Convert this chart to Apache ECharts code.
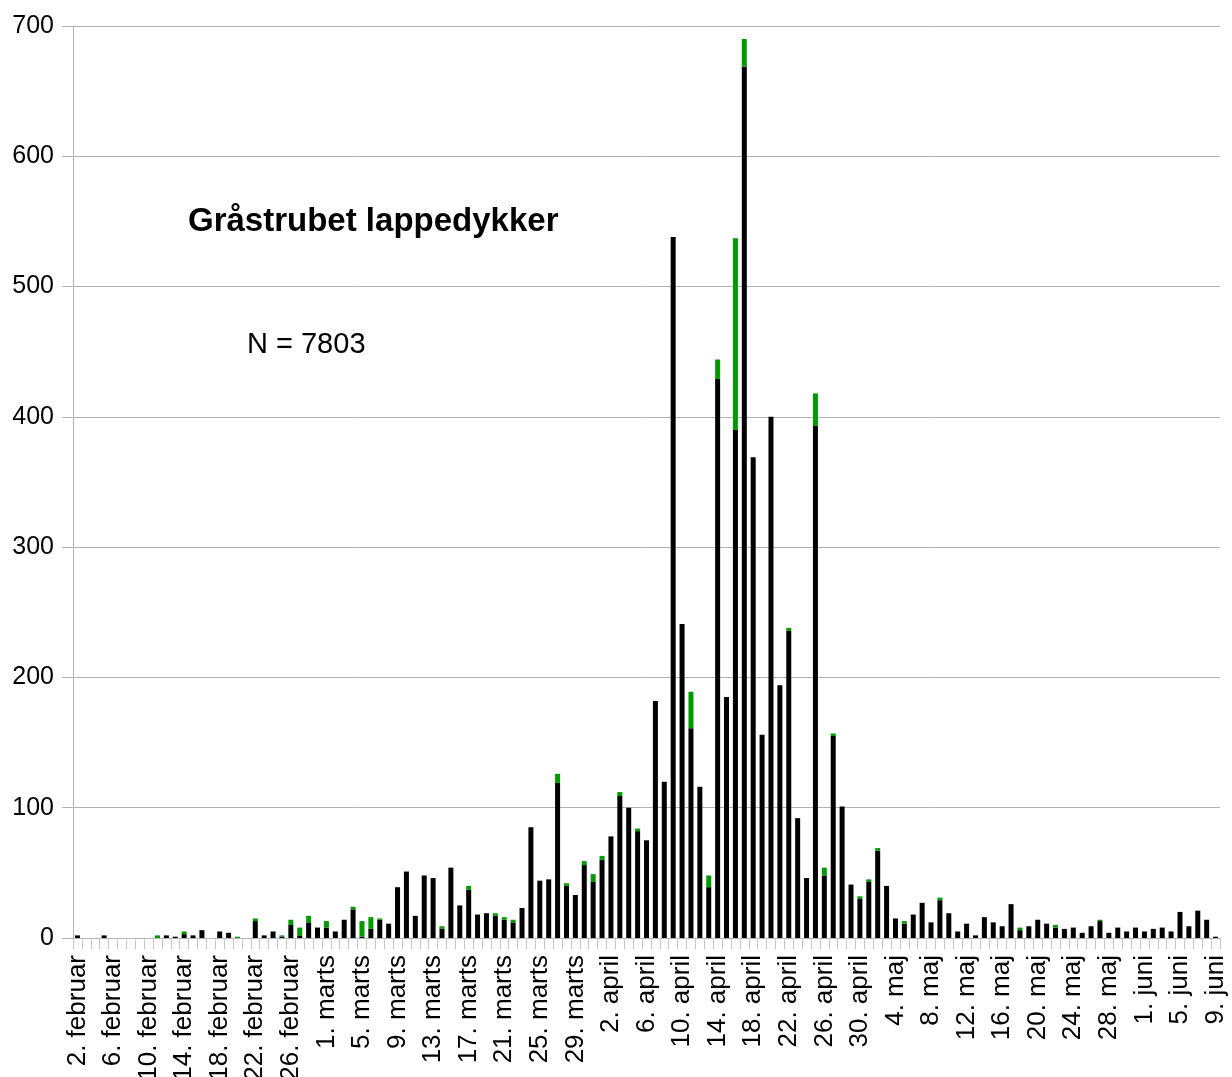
<!DOCTYPE html>
<html>
<head>
<meta charset="utf-8">
<title>Gråstrubet lappedykker</title>
<script src="https://cdn.jsdelivr.net/npm/echarts@6/dist/echarts.min.js"></script>
<style>
  html, body { margin: 0; padding: 0; background: #fff; }
  #chart { width: 1232px; height: 1077px; }
</style>
</head>
<body>
<div id="chart"></div>
<script>
// måneder i perioden 2. februar - 9. juni (skudår)
const months = [
  ['februar', 2, 29],
  ['marts', 1, 31],
  ['april', 1, 30],
  ['maj', 1, 31],
  ['juni', 1, 9]
]

// sorte søjler (hovedserie)
const black = [
  2, 0, 0, 2, 0, 0, 0, 0, 0, 0,
  2, 1, 3, 2, 6, 0, 5, 4, 0, 0,
  13, 2, 5, 1, 10, 2, 12, 8, 8, 5,
  14, 22, 1, 7, 14, 11, 39, 51, 17, 48,
  46, 7, 54, 25, 37, 18, 19, 17, 14, 12,
  23, 85, 44, 45, 119, 40, 33, 56, 43, 60,
  78, 109, 100, 82, 75, 182, 120, 538, 241, 161,
  116, 39, 429, 185, 390, 669, 369, 156, 400, 194,
  236, 92, 46, 393, 48, 155, 101, 41, 30, 43,
  67, 40, 15, 11, 18, 27, 12, 29, 19, 5,
  11, 2, 16, 12, 9, 26, 6, 9, 14, 11,
  8, 7, 8, 4, 9, 13, 4, 8, 5, 8,
  5, 7, 8, 5, 20, 9, 21, 14, 1
]

// grønne toppe
const green = [
  0, 0, 0, 0, 0, 0, 0, 0, 0, 2,
  0, 0, 2, 0, 0, 0, 0, 0, 1, 0,
  2, 0, 0, 1, 4, 6, 5, 0, 5, 0,
  0, 2, 12, 9, 1, 0, 0, 0, 0, 0,
  0, 2, 0, 0, 3, 0, 0, 2, 2, 2,
  0, 0, 0, 0, 7, 2, 0, 3, 6, 3,
  0, 3, 0, 2, 0, 0, 0, 0, 0, 28,
  0, 9, 15, 0, 147, 21, 0, 0, 0, 0,
  2, 0, 0, 25, 6, 2, 0, 0, 2, 2,
  2, 0, 0, 2, 0, 0, 0, 2, 0, 0,
  0, 0, 0, 0, 0, 0, 2, 0, 0, 0,
  2, 0, 0, 0, 0, 1, 0, 0, 0, 0,
  0, 0, 0, 0, 0, 0, 0, 0, 0
]

const yTicks = [0, 100, 200, 300, 400, 500, 600, 700]

// kategorier: "2. februar", "3. februar", ...
const days = []
months.forEach(([name, from, to]) => {
  for (let d = from; d <= to; d++) days.push(d + '. ' + name)
})

const font = "'Liberation Sans', Arial, sans-serif"
const gridColor = '#b3b3b3'

const chart = echarts.init(document.getElementById('chart'))

chart.setOption({
  backgroundColor: '#ffffff',
  animation: false,
  textStyle: { fontFamily: font },
  title: [
    {
      text: 'Gråstrubet lappedykker',
      left: 188,
      top: 205,
      padding: 0,
      textStyle: { fontSize: 33, fontWeight: 'bold', color: '#000', fontFamily: font }
    },
    {
      text: 'N = 7803',
      left: 247,
      top: 330,
      padding: 0,
      textStyle: { fontSize: 29, fontWeight: 'normal', color: '#000', fontFamily: font }
    }
  ],
  grid: { left: 73, right: 12, top: 26, bottom: 139, containLabel: false, outerBoundsMode: 'none' },
  xAxis: {
    type: 'category',
    data: days,
    boundaryGap: true,
    axisLine: { lineStyle: { color: gridColor, width: 1 } },
    axisTick: { show: true, interval: 0, length: 11, lineStyle: { color: '#c8c8c8' } },
    axisLabel: {
      interval: 3,
      rotate: 90,
      margin: 17,
      fontSize: 26,
      color: '#000',
      fontFamily: font,
      hideOverlap: false
    },
    splitLine: { show: false }
  },
  yAxis: {
    type: 'value',
    min: yTicks[0],
    max: yTicks[yTicks.length - 1],
    interval: 100,
    axisLine: { show: true, lineStyle: { color: gridColor } },
    axisTick: { show: true, length: 11, lineStyle: { color: gridColor } },
    axisLabel: { fontSize: 25, color: '#000', margin: 19, fontFamily: font },
    splitLine: { lineStyle: { color: gridColor } }
  },
  series: [
    {
      name: 'sort',
      type: 'bar',
      stack: 'total',
      barWidth: 5,
      itemStyle: { color: '#000000' },
      data: black
    },
    {
      name: 'grøn',
      type: 'bar',
      stack: 'total',
      barWidth: 5,
      itemStyle: { color: '#009900' },
      data: green
    }
  ]
})
</script>
</body>
</html>
